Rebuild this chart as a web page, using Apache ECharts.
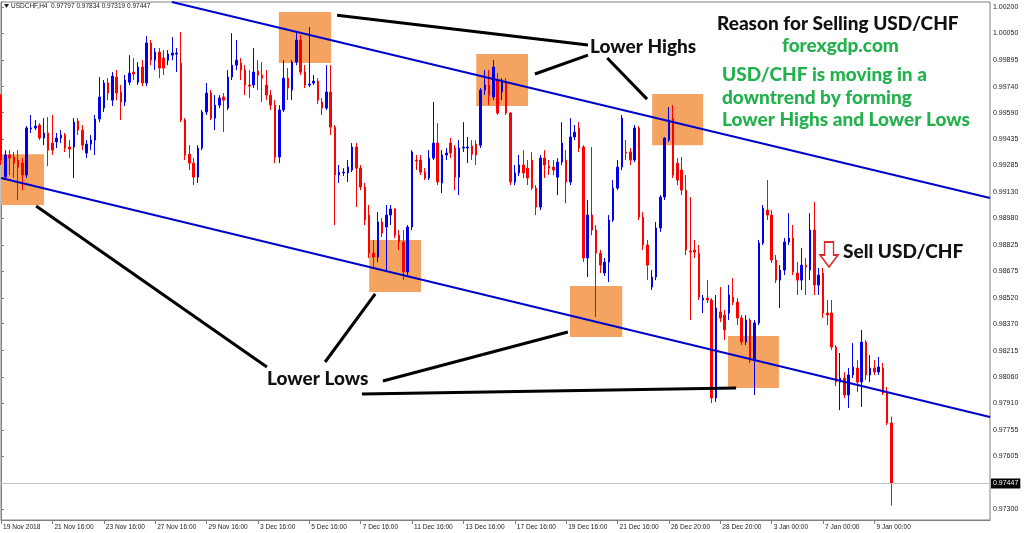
<!DOCTYPE html>
<html><head><meta charset="utf-8">
<script src="https://cdn.jsdelivr.net/npm/echarts@6/dist/echarts.min.js"></script>
<style>html,body{margin:0;padding:0;background:#fff}#c{width:1024px;height:533px}</style>
</head><body><div id="c"></div>
<script>
// ---------- data ----------
const symbolName = 'USDCHF,H4';
const tickLabels = ['19 Nov 2018','21 Nov 16:00','23 Nov 16:00','27 Nov 16:00','29 Nov 16:00','3 Dec 16:00','5 Dec 16:00','7 Dec 16:00','11 Dec 16:00','13 Dec 16:00','17 Dec 16:00','19 Dec 16:00','21 Dec 16:00','26 Dec 20:00','28 Dec 20:00','3 Jan 00:00','7 Jan 00:00','9 Jan 00:00'];
const barsPerTick = 12;
const slotCount = 232;
const yTicks = [1.00200,1.00050,0.99895,0.99740,0.99590,0.99435,0.99285,0.99130,0.98980,0.98825,0.98675,0.98520,0.98370,0.98215,0.98060,0.97910,0.97755,0.97605,0.97300];
const currentPrice = 0.97447;
// [open, close, low, high]
const candles = [
[0.99685,0.99316,0.99287,0.99697],[0.99217,0.99345,0.99200,0.99373],[0.99345,0.99327,0.99229,0.99373],[0.99333,0.99298,0.99212,0.99362],
[0.99316,0.99275,0.99085,0.99373],[0.99298,0.99229,0.99142,0.99327],[0.99229,0.99501,0.99212,0.99512],[0.99495,0.99501,0.99472,0.99576],
[0.99501,0.99512,0.99489,0.99547],[0.99518,0.99443,0.99431,0.99529],[0.99443,0.99472,0.99402,0.99558],[0.99472,0.99373,0.99281,0.99564],
[0.99414,0.99373,0.99345,0.99576],[0.99420,0.99443,0.99385,0.99472],[0.99443,0.99460,0.99414,0.99489],[0.99460,0.99385,0.99362,0.99472],
[0.99391,0.99379,0.99327,0.99431],[0.99391,0.99535,0.99212,0.99558],[0.99541,0.99489,0.99460,0.99558],[0.99489,0.99402,0.99373,0.99518],
[0.99356,0.99408,0.99327,0.99431],[0.99408,0.99431,0.99373,0.99460],[0.99431,0.99553,0.99345,0.99576],[0.99553,0.99680,0.99535,0.99795],
[0.99616,0.99761,0.99593,0.99778],[0.99761,0.99703,0.99662,0.99789],[0.99662,0.99801,0.99628,0.99824],[0.99795,0.99703,0.99662,0.99836],
[0.99709,0.99651,0.99547,0.99749],[0.99651,0.99778,0.99628,0.99807],[0.99766,0.99818,0.99749,0.99922],[0.99824,0.99813,0.99778,0.99905],
[0.99766,0.99853,0.99749,0.99882],[0.99853,0.99761,0.99743,0.99893],[0.99761,0.99992,0.99743,1.00032],[0.99992,0.99893,0.99864,1.00009],
[0.99893,0.99940,0.99836,0.99963],[0.99940,0.99847,0.99789,0.99963],[0.99905,0.99847,0.99807,0.99951],[0.99893,0.99928,0.99864,0.99951],
[0.99922,0.99934,0.99893,1.00026],[0.99928,0.99934,0.99824,0.99963],[0.99876,0.99547,0.99535,1.00055],[0.99547,0.99345,0.99316,0.99558],
[0.99350,0.99298,0.99258,0.99402],[0.99298,0.99217,0.99171,0.99327],[0.99217,0.99385,0.99183,0.99402],[0.99385,0.99593,0.99373,0.99605],
[0.99593,0.99703,0.99576,0.99761],[0.99703,0.99558,0.99547,0.99720],[0.99558,0.99633,0.99489,0.99691],[0.99633,0.99674,0.99616,0.99691],
[0.99680,0.99662,0.99477,0.99703],[0.99616,0.99795,0.99605,0.99836],[0.99795,0.99864,0.99778,1.00049],[0.99864,0.99893,0.99836,1.00009],
[0.99876,0.99836,0.99778,0.99905],[0.99836,0.99749,0.99691,0.99864],[0.99749,0.99743,0.99674,0.99836],[0.99749,0.99824,0.99732,0.99963],
[0.99830,0.99807,0.99720,0.99893],[0.99807,0.99789,0.99651,0.99882],[0.99749,0.99691,0.99662,0.99836],[0.99691,0.99633,0.99605,0.99720],
[0.99633,0.99333,0.99298,0.99662],[0.99333,0.99605,0.99298,0.99633],[0.99605,0.99789,0.99593,0.99893],[0.99789,0.99732,0.99662,0.99847],
[0.99720,0.99882,0.99662,0.99893],[0.99882,1.00009,0.99864,1.00049],[1.00009,0.99824,0.99807,1.00038],[0.99824,0.99749,0.99732,0.99864],
[0.99749,0.99755,0.99737,1.00084],[0.99761,0.99772,0.99749,0.99807],[0.99772,0.99662,0.99639,0.99789],[0.99651,0.99616,0.99576,0.99674],
[0.99616,0.99709,0.99605,0.99864],[0.99709,0.99506,0.99460,0.99864],[0.99506,0.99229,0.98940,0.99518],[0.99229,0.99246,0.99183,0.99287],
[0.99241,0.99246,0.99223,0.99269],[0.99241,0.99275,0.99189,0.99316],[0.99258,0.99391,0.99246,0.99414],[0.99391,0.99269,0.99044,0.99414],
[0.99269,0.99160,0.99142,0.99287],[0.99160,0.98969,0.98940,0.99183],[0.98998,0.98778,0.98750,0.99056],[0.98778,0.98755,0.98698,0.98854],
[0.98755,0.98958,0.98726,0.99015],[0.98958,0.98894,0.98871,0.98981],[0.98929,0.98998,0.98680,0.99056],[0.98998,0.99033,0.98940,0.99056],
[0.99033,0.98882,0.98865,0.99038],[0.98882,0.98842,0.98796,0.98911],[0.98842,0.98669,0.98622,0.98911],[0.98669,0.98929,0.98651,0.98940],
[0.98929,0.99362,0.98911,0.99373],[0.99316,0.99310,0.99258,0.99345],[0.99316,0.99246,0.99229,0.99345],[0.99246,0.99212,0.99200,0.99269],
[0.99212,0.99327,0.99200,0.99373],[0.99327,0.99414,0.99316,0.99651],[0.99414,0.99189,0.99171,0.99529],[0.99183,0.99345,0.99125,0.99373],
[0.99345,0.99356,0.99316,0.99385],[0.99414,0.99356,0.99327,0.99443],[0.99385,0.99217,0.99142,0.99402],[0.99217,0.99385,0.99113,0.99431],
[0.99385,0.99391,0.99362,0.99535],[0.99385,0.99391,0.99298,0.99449],[0.99397,0.99350,0.99316,0.99431],[0.99408,0.99345,0.99287,0.99431],
[0.99402,0.99720,0.99385,0.99732],[0.99720,0.99749,0.99691,0.99836],[0.99749,0.99691,0.99633,0.99836],[0.99680,0.99853,0.99662,0.99893],
[0.99778,0.99587,0.99576,0.99818],[0.99709,0.99766,0.99662,0.99789],[0.99766,0.99587,0.99576,0.99789],[0.99587,0.99189,0.99171,0.99593],
[0.99189,0.99241,0.99171,0.99287],[0.99241,0.99287,0.99223,0.99345],[0.99287,0.99241,0.99212,0.99373],[0.99269,0.99212,0.99171,0.99316],
[0.99316,0.99154,0.99142,0.99362],[0.99154,0.99044,0.98998,0.99171],[0.99044,0.99327,0.99027,0.99345],[0.99327,0.99287,0.99212,0.99373],
[0.99281,0.99269,0.99229,0.99316],[0.99275,0.99258,0.99229,0.99316],[0.99217,0.99304,0.99113,0.99327],[0.99304,0.99414,0.99287,0.99535],
[0.99316,0.99189,0.99067,0.99373],[0.99189,0.99449,0.99171,0.99558],[0.99449,0.99477,0.99431,0.99518],[0.99501,0.99385,0.99362,0.99535],
[0.99391,0.98750,0.98726,0.99402],[0.98750,0.98998,0.98640,0.99085],[0.98998,0.98911,0.98882,0.99391],[0.98911,0.98778,0.98409,0.98940],
[0.98778,0.98709,0.98663,0.98796],[0.98663,0.98726,0.98646,0.98750],[0.98726,0.98969,0.98611,0.98998],[0.98969,0.99154,0.98958,0.99200],
[0.99154,0.99275,0.99142,0.99316],[0.99275,0.99558,0.99258,0.99576],[0.99362,0.99356,0.99316,0.99431],[0.99362,0.99316,0.99287,0.99385],
[0.99316,0.99501,0.99304,0.99518],[0.99501,0.98986,0.98969,0.99512],[0.98986,0.98825,0.98796,0.99015],[0.98825,0.98709,0.98622,0.98854],
[0.98582,0.98640,0.98565,0.98680],[0.98640,0.98923,0.98622,0.98958],[0.98923,0.99102,0.98900,0.99113],[0.99102,0.99443,0.99085,0.99449],
[0.99431,0.99547,0.99420,0.99622],[0.99558,0.99229,0.99212,0.99633],[0.99298,0.99200,0.99171,0.99327],[0.99258,0.99142,0.99113,0.99333],
[0.99142,0.98796,0.98767,0.99229],[0.98790,0.98784,0.98391,0.99102],[0.98796,0.98784,0.98750,0.98854],[0.98778,0.98524,0.98507,0.98825],
[0.98507,0.98518,0.98432,0.98536],[0.98518,0.98507,0.98490,0.98622],[0.98507,0.97941,0.97912,0.98518],[0.97941,0.98461,0.97918,0.98536],
[0.98438,0.98403,0.98380,0.98582],[0.98420,0.98334,0.98276,0.98449],[0.98432,0.98536,0.98391,0.98594],[0.98524,0.98495,0.98478,0.98634],
[0.98495,0.98403,0.98362,0.98518],[0.98403,0.98264,0.98247,0.98420],[0.98264,0.98391,0.98247,0.98420],[0.98391,0.98160,0.98143,0.98403],
[0.98160,0.98374,0.97958,0.98391],[0.98374,0.98836,0.98362,0.98854],[0.98836,0.99038,0.98825,0.99056],[0.99027,0.98998,0.98969,0.99200],
[0.98998,0.98738,0.98721,0.99027],[0.98738,0.98622,0.98605,0.98767],[0.98622,0.98680,0.98461,0.98709],[0.98680,0.98842,0.98651,0.98865],
[0.98842,0.98865,0.98825,0.99009],[0.98865,0.98669,0.98651,0.98940],[0.98663,0.98622,0.98536,0.98726],[0.98622,0.98709,0.98565,0.98807],
[0.98709,0.98698,0.98536,0.98750],[0.98680,0.98911,0.98622,0.99009],[0.98911,0.98594,0.98536,0.99073],[0.98594,0.98651,0.98536,0.98692],
[0.98663,0.98432,0.98403,0.98692],[0.98432,0.98420,0.98362,0.98507],[0.98432,0.98235,0.98218,0.98507],[0.98235,0.98033,0.98010,0.98247],
[0.98033,0.98056,0.97871,0.98201],[0.98056,0.97958,0.97941,0.98091],[0.97958,0.98074,0.97883,0.98114],[0.98074,0.98120,0.98056,0.98258],
[0.98114,0.98033,0.97975,0.98160],[0.98033,0.98264,0.97889,0.98334],[0.98264,0.98074,0.98045,0.98276],[0.98074,0.98114,0.98033,0.98189],
[0.98114,0.98091,0.98074,0.98160],[0.98091,0.98120,0.98074,0.98178],[0.98114,0.97970,0.97958,0.98143],[0.97975,0.97796,0.97785,0.98004],
[0.97797,0.97447,0.97319,0.97834]
];
// annotation geometry in data space: [barIndex, price]
const boxes = [
  [[0,0.99350],[10.04,0.99056]],
  [[64.9,1.00171],[77.1,0.99876]],
  [[111.0,0.99928],[123.1,0.99628]],
  [[152.1,0.99697],[164.0,0.99402]],
  [[86.0,0.98854],[98.1,0.98553]],
  [[132.9,0.98588],[145.1,0.98293]],
  [[169.8,0.98299],[181.7,0.97999]]
];
const trendLines = [
  [[39.9,1.00229],[231,0.99096]],
  [[0,0.99212],[231,0.97831]]
];
const pointerLines = [
  [[78.5,1.00153],[137.1,0.99980]],
  [[124.7,0.99813],[137.1,0.99922]],
  [[141.6,0.99905],[150.9,0.99668]],
  [[8.2,0.99050],[62.1,0.98120]],
  [[75.7,0.98149],[87.4,0.98542]],
  [[89.2,0.98039],[132.4,0.98322]],
  [[84.3,0.97964],[171.7,0.97999]]
];
const sellArrow = [193.4, 0.98770];

// ---------- chart ----------
const categories = [];
for (let i = 0; i < slotCount; i++) {
  categories.push(i % barsPerTick === 0 && tickLabels[i / barsPerTick] ? tickLabels[i / barsPerTick] : String(i));
}
const showTick = (idx) => idx % barsPerTick === 0 && idx / barsPerTick < tickLabels.length;
const last = candles[candles.length - 1];
const header = symbolName + '  ' + [last[0], last[3], last[2], last[1]].map(v => v.toFixed(5)).join(' ');

const chart = echarts.init(document.getElementById('c'), null, {renderer: 'canvas'});
const bigFont = '900 19px Lato';
const green = '#22b14c';
chart.setOption({
  animation: false,
  backgroundColor: '#ffffff',
  grid: {left: 1, right: 34, top: 2, bottom: 13, show: true, borderColor: '#808080', borderWidth: 1, containLabel: false},
  xAxis: [{
    type: 'category', data: categories, boundaryGap: false,
    axisLine: {show: true, lineStyle: {color: '#808080'}},
    axisTick: {show: true, interval: showTick, length: 4, lineStyle: {color: '#808080'}},
    axisLabel: {interval: showTick, align: 'left', padding: [0, 0, 0, 2], margin: 4, fontSize: 6.6, color: '#222', fontFamily: 'Liberation Sans'},
    splitLine: {show: false}
  }, {
    type: 'value', min: 0, max: slotCount - 1, show: false
  }],
  yAxis: {
    type: 'value', position: 'right', min: 0.97236, max: 1.00229, scale: true,
    splitLine: {show: false},
    axisLine: {show: true, lineStyle: {color: '#808080'}},
    axisTick: {show: true, length: 3, lineStyle: {color: '#808080'}, customValues: yTicks},
    axisLabel: {customValues: yTicks, formatter: v => v.toFixed(5), fontSize: 7, color: '#222', margin: 3, fontFamily: 'Liberation Sans'}
  },
  series: [{
    type: 'line', xAxisIndex: 1, yAxisIndex: 0, data: [], z: 1, silent: true,
    markArea: {silent: true, itemStyle: {color: '#F4A460', opacity: 1},
      data: boxes.map(b => [{coord: b[0]}, {coord: b[1]}])},
    markLine: {silent: true, symbol: ['none', 'none'], precision: 5,
      data: [[{coord: [0, currentPrice],
        lineStyle: {color: '#c0c0c0', width: 1, type: 'solid'},
        label: {show: true, position: 'end', distance: 1, formatter: currentPrice.toFixed(5), color: '#fff', backgroundColor: '#000', padding: [2, 2, 1, 2], fontSize: 7, fontFamily: 'Liberation Sans'}},
        {coord: [slotCount - 1, currentPrice]}]]}
  }, {
    type: 'candlestick', xAxisIndex: 0, yAxisIndex: 0, data: candles, barWidth: 2, z: 3, silent: true,
    itemStyle: {color: '#0000ee', color0: '#ff0000', borderColor: '#0000ee', borderColor0: '#ff0000', borderWidth: 1}
  }, {
    type: 'line', xAxisIndex: 1, yAxisIndex: 0, data: [], z: 4, silent: true,
    markLine: {silent: true, symbol: ['none', 'none'], label: {show: false},
      data: trendLines.map(l => [{coord: l[0], lineStyle: {color: '#0000cd', width: 2, type: 'solid'}}, {coord: l[1]}])
        .concat(pointerLines.map(l => [{coord: l[0], lineStyle: {color: '#000', width: 3, type: 'solid'}}, {coord: l[1]}]))},
    markPoint: {silent: true, label: {show: false},
      data: [{coord: sellArrow, symbol: 'path://M4.5,0 L13.5,0 L13.5,13 L18,13 L9,25 L0,13 L4.5,13 Z', symbolSize: [18, 25],
        itemStyle: {color: '#ffffff', borderColor: '#e3262a', borderWidth: 1.6}}]}
  }],
  graphic: [
    {type: 'polygon', shape: {points: [[4, 4], [9, 4], [6.5, 8]]}, style: {fill: '#222'}},
    {type: 'text', x: 11, y: 6.5, style: {text: header, font: '6.5px "Liberation Sans"', fill: '#222', verticalAlign: 'middle'}},
    {type: 'text', x: 717, y: 24, style: {text: 'Reason for Selling USD/CHF', font: bigFont, fill: '#111', verticalAlign: 'middle'}},
    {type: 'text', x: 782, y: 46, style: {text: 'forexgdp.com', font: bigFont, fill: green, verticalAlign: 'middle'}},
    {type: 'text', x: 722, y: 75, style: {text: 'USD/CHF is moving in a', font: bigFont, fill: green, verticalAlign: 'middle'}},
    {type: 'text', x: 722, y: 98, style: {text: 'downtrend by forming', font: bigFont, fill: green, verticalAlign: 'middle'}},
    {type: 'text', x: 722, y: 120, style: {text: 'Lower Highs and Lower Lows', font: bigFont, fill: green, verticalAlign: 'middle'}},
    {type: 'text', x: 590, y: 47, style: {text: 'Lower Highs', font: bigFont, fill: '#111', verticalAlign: 'middle'}},
    {type: 'text', x: 843, y: 252, style: {text: 'Sell USD/CHF', font: bigFont, fill: '#111', verticalAlign: 'middle'}},
    {type: 'text', x: 267, y: 379, style: {text: 'Lower Lows', font: bigFont, fill: '#111', verticalAlign: 'middle'}}
  ]
});
</script></body></html>
